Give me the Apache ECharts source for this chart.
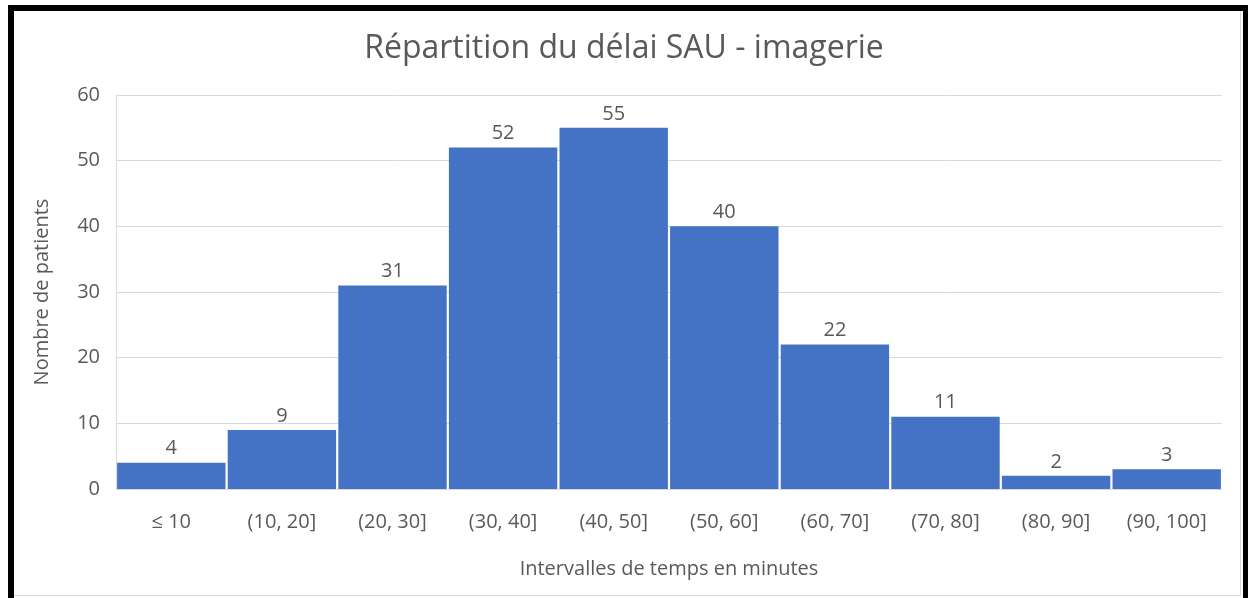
<!DOCTYPE html>
<html>
<head>
<meta charset="utf-8">
<script src="https://cdn.jsdelivr.net/npm/echarts@6/dist/echarts.min.js"></script>
<style>
  html, body { margin: 0; padding: 0; background: #fff; }
  #chart { width: 1248px; height: 598px; }
</style>
</head>
<body>
<div id="chart"></div>
<script>
const categories = ['≤ 10', '(10, 20]', '(20, 30]', '(30, 40]', '(40, 50]', '(50, 60]', '(60, 70]', '(70, 80]', '(80, 90]', '(90, 100]'];
const patients = [4, 9, 31, 52, 55, 40, 22, 11, 2, 3];
const yTicks = { min: 0, max: 60, interval: 10 };

const textColor = '#595959';
const font = '"Open Sans", "Noto Sans", sans-serif';

const chart = echarts.init(document.getElementById('chart'));

chart.setOption({
  animation: false,
  textStyle: { fontFamily: font },
  title: {
    text: 'Répartition du délai SAU - imagerie',
    left: 'center',
    top: 28,
    textStyle: { color: textColor, fontSize: 32, fontWeight: 'normal', fontFamily: font }
  },
  grid: { left: 116, right: 26, top: 95, bottom: 109 },
  // cadre noir + bordure grise du graphique
  graphic: [
    { type: 'rect', left: 8, top: 5, shape: { width: 1240, height: 6 }, style: { fill: '#000' } },
    { type: 'rect', left: 8, top: 5, shape: { width: 6, height: 593 }, style: { fill: '#000' } },
    { type: 'rect', left: 1243, top: 5, shape: { width: 5, height: 593 }, style: { fill: '#000' } },
    { type: 'rect', left: 1240, top: 11, shape: { width: 1, height: 585 }, style: { fill: '#d9d9d9' } },
    { type: 'rect', left: 14, top: 595, shape: { width: 1227, height: 1 }, style: { fill: '#d9d9d9' } }
  ],
  xAxis: {
    type: 'category',
    data: categories,
    name: 'Intervalles de temps en minutes',
    nameLocation: 'middle',
    nameGap: 70,
    nameTextStyle: { color: textColor, fontSize: 20 },
    axisLine: { show: true, lineStyle: { color: '#d9d9d9' } },
    axisTick: { show: false },
    axisLabel: { color: textColor, fontSize: 20, margin: 23 }
  },
  yAxis: {
    type: 'value',
    min: yTicks.min,
    max: yTicks.max,
    interval: yTicks.interval,
    name: 'Nombre de patients',
    nameLocation: 'middle',
    nameGap: 64,
    nameTextStyle: { color: textColor, fontSize: 20 },
    axisLine: { show: true, lineStyle: { color: '#d9d9d9' } },
    axisTick: { show: false },
    axisLabel: { color: textColor, fontSize: 20, margin: 16 },
    splitLine: { show: true, lineStyle: { color: '#d9d9d9' } }
  },
  series: [
    {
      type: 'bar',
      data: patients,
      barCategoryGap: '2%',
      itemStyle: { color: '#4472C4' },
      label: { show: true, position: 'top', distance: 4, color: textColor, fontSize: 20 }
    }
  ]
});
</script>
</body>
</html>
